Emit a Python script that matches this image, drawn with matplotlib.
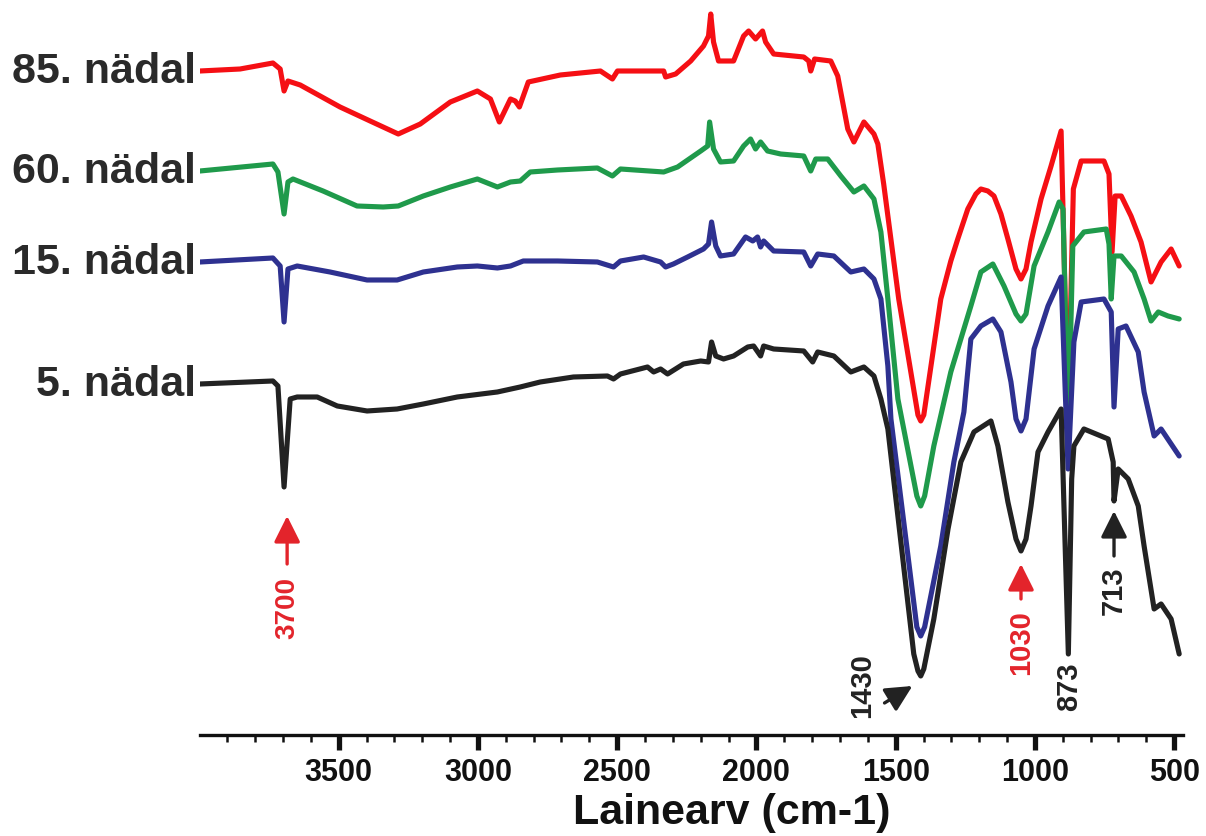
import matplotlib
matplotlib.use("Agg")
import matplotlib.pyplot as plt
from matplotlib.ticker import MultipleLocator

plt.rcParams['font.family'] = ['Liberation Sans', 'DejaVu Sans']
plt.rcParams['font.weight'] = 'bold'

# IR-spektrid (lainearv cm-1, suhteline läbilaskvus, nihutatud)
wn_85 = [3998, 3854, 3736, 3710, 3696, 3682, 3638, 3495, 3387, 3286, 3207, 3099, 3002, 2955,
         2923, 2883, 2866, 2851, 2819, 2704, 2560, 2517, 2499, 2333, 2326, 2290, 2236, 2190,
         2172, 2164, 2154, 2136, 2082, 2046, 2028, 2003, 1978, 1967, 1938, 1830, 1812, 1805,
         1791, 1733, 1708, 1672, 1650, 1614, 1578, 1564, 1543, 1489, 1420, 1410, 1399, 1338,
         1302, 1277, 1241, 1212, 1194, 1169, 1147, 1122, 1097, 1068, 1050, 1032, 1014, 978,
         942, 906, 881, 862, 834, 752, 734, 723, 712, 690, 655, 619, 583, 547, 511, 482]
t_85 = [628, 630, 636, 630, 608, 618, 614, 592, 578, 565, 575, 597, 608, 600,
        577, 600, 598, 592, 617, 624, 628, 620, 628, 628, 622, 625, 638, 653,
        663, 685, 657, 638, 638, 663, 668, 660, 668, 657, 645, 642, 638, 628,
        640, 638, 623, 570, 557, 577, 565, 555, 515, 400, 284, 278, 284, 400,
        438, 460, 490, 505, 510, 508, 503, 485, 460, 430, 420, 430, 457, 500,
        533, 568, 280, 510, 538, 538, 525, 447, 503, 503, 483, 457, 417, 437, 450, 433]

wn_60 = [3998, 3736, 3718, 3696, 3682, 3664, 3556, 3434, 3340, 3286, 3196, 3099, 3002, 2930,
         2883, 2848, 2812, 2714, 2571, 2517, 2488, 2333, 2283, 2200, 2175, 2168, 2154, 2129,
         2082, 2046, 2021, 2003, 1985, 1960, 1913, 1830, 1805, 1787, 1744, 1697, 1650, 1614,
         1578, 1553, 1528, 1492, 1424, 1410, 1396, 1363, 1302, 1230, 1194, 1151, 1111, 1068,
         1050, 1032, 1003, 953, 913, 899, 881, 864, 824, 744, 734, 726, 716, 690, 644, 608,
         583, 557, 522, 482]
t_60 = [528, 535, 527, 485, 517, 520, 508, 493, 492, 493, 503, 512, 520, 512,
        517, 518, 527, 529, 531, 523, 530, 527, 532, 548, 553, 577, 550, 537,
        538, 553, 560, 550, 557, 548, 545, 543, 528, 540, 540, 523, 507, 513,
        500, 467, 400, 300, 203, 193, 203, 253, 327, 393, 427, 435, 413, 385,
        378, 385, 433, 467, 497, 490, 260, 453, 467, 470, 455, 400, 443, 443, 427, 400,
        378, 387, 383, 380]

wn_15 = [3998, 3736, 3710, 3696, 3682, 3649, 3531, 3398, 3290, 3196, 3074, 3002, 2930, 2883,
         2837, 2714, 2571, 2513, 2488, 2405, 2344, 2326, 2298, 2247, 2190, 2172, 2161, 2146,
         2129, 2082, 2039, 2013, 1996, 1985, 1974, 1938, 1830, 1805, 1780, 1722, 1661, 1614,
         1578, 1553, 1528, 1517, 1424, 1410, 1396, 1338, 1291, 1255, 1230, 1194, 1151, 1122,
         1086, 1068, 1050, 1032, 1003, 953, 906, 881, 860, 834, 752, 726, 716, 701, 673, 629,
         608, 572, 547, 482]
t_15 = [437, 441, 433, 377, 430, 433, 427, 419, 419, 427, 432, 433, 431, 433,
        438, 438, 437, 432, 438, 442, 437, 432, 435, 442, 450, 455, 477, 453,
        443, 445, 462, 458, 462, 452, 458, 448, 447, 433, 445, 443, 427, 430,
        420, 400, 333, 280, 72, 63, 72, 153, 237, 287, 360, 373, 380, 367,
        317, 280, 268, 280, 350, 393, 422, 230, 357, 397, 400, 387, 292, 370, 373, 347,
        307, 263, 270, 243]

wn_5 = [3998, 3736, 3718, 3696, 3674, 3649, 3577, 3505, 3398, 3290, 3196, 3074, 2930, 2848,
        2776, 2657, 2535, 2513, 2488, 2391, 2369, 2344, 2319, 2262, 2200, 2172, 2161, 2146,
        2118, 2082, 2031, 2010, 1985, 1974, 1938, 1830, 1798, 1780, 1722, 1661, 1614, 1578,
        1553, 1528, 1435, 1420, 1410, 1399, 1363, 1312, 1266, 1219, 1158, 1133, 1097, 1068,
        1050, 1032, 1014, 989, 953, 906, 880, 868, 860, 824, 737, 719, 716, 701, 665, 629,
        608, 572, 547, 511, 482]
t_5 = [315, 318, 313, 212, 300, 302, 302, 293, 288, 290, 295, 302, 307, 312,
       317, 322, 323, 320, 325, 332, 327, 330, 325, 335, 338, 337, 357, 343,
       340, 343, 352, 353, 343, 353, 350, 348, 337, 347, 343, 327, 332, 323,
       300, 270, 45, 28, 23, 30, 80, 170, 237, 267, 278, 253, 197, 160,
       148, 160, 193, 247, 267, 290, 45, 220, 253, 270, 260, 237, 198, 230, 220, 193,
       153, 90, 95, 80, 45]

labels = ['85. nädal', '60. nädal', '15. nädal', '5. nädal']
colors = ['#f50f14', '#1f9a4b', '#2e3190', '#222222']
series = [(wn_85, t_85), (wn_60, t_60), (wn_15, t_15), (wn_5, t_5)]

peaks = ['3700', '1430', '1030', '873', '713']

fig = plt.figure(figsize=(12.06, 8.37), dpi=100)
ax = fig.add_axes([0.1658, 0.1207, 0.8152, 0.8793])

for (wn, t), c, lab in zip(series, colors, labels):
    ax.plot(wn, t, color=c, lw=3.7, solid_joinstyle='round', solid_capstyle='round')
    ax.annotate(lab, xy=(wn[0], t[0]), xytext=(-3, 0), textcoords='offset points',
                ha='right', va='center', fontsize=31, fontweight='bold', color='#2a2a2a')

red = '#e3242b'
dark = '#222222'
arrow_kw = dict(arrowstyle='-|>,head_length=1.0,head_width=0.5', lw=2.4,
                mutation_scale=16, shrinkA=0, shrinkB=0)

# 3700
ax.annotate('', xy=(3685, 183), xytext=(3685, 135),
            arrowprops=dict(color=red, **arrow_kw))
ax.text(3685, 123, peaks[0], rotation=90, ha='center', va='top', fontsize=20, color=red)
# 1430
ax.annotate('', xy=(1440, 13), xytext=(1540, -4),
            arrowprops=dict(color=dark, **arrow_kw), annotation_clip=False)
ax.text(1622, 47, peaks[1], rotation=90, ha='center', va='top', fontsize=21, color=dark)
# 1030
ax.annotate('', xy=(1050, 135), xytext=(1050, 100),
            arrowprops=dict(color=red, **arrow_kw))
ax.text(1050, 90, peaks[2], rotation=90, ha='center', va='top', fontsize=21, color=red)
# 873
ax.text(877, 37, peaks[3], rotation=90, ha='center', va='top', fontsize=21, color=dark)
# 713
ax.annotate('', xy=(716, 188), xytext=(716, 143),
            arrowprops=dict(color=dark, **arrow_kw))
ax.text(716, 133, peaks[4], rotation=90, ha='center', va='top', fontsize=21, color=dark)

ax.set_xlim(3998, 468)
ax.set_ylim(-36, 700)
ax.xaxis.set_major_locator(MultipleLocator(500))
ax.xaxis.set_minor_locator(MultipleLocator(100))
ax.tick_params(axis='x', which='major', direction='out', length=11, width=3.8,
               labelsize=22, pad=5, colors='#111111')
ax.tick_params(axis='x', which='minor', direction='out', length=5, width=1.8, colors='#111111')
for lab in ax.get_xticklabels():
    lab.set_fontweight('bold')
ax.set_yticks([])
for s in ['left', 'right', 'top']:
    ax.spines[s].set_visible(False)
ax.spines['bottom'].set_linewidth(2.4)
ax.spines['bottom'].set_color('#111111')
ax.set_xlabel('Lainearv (cm-1)', fontsize=31, fontweight='bold', color='#111111')
ax.xaxis.set_label_coords(0.541, -0.078)

fig.savefig('out.png', dpi=100)
